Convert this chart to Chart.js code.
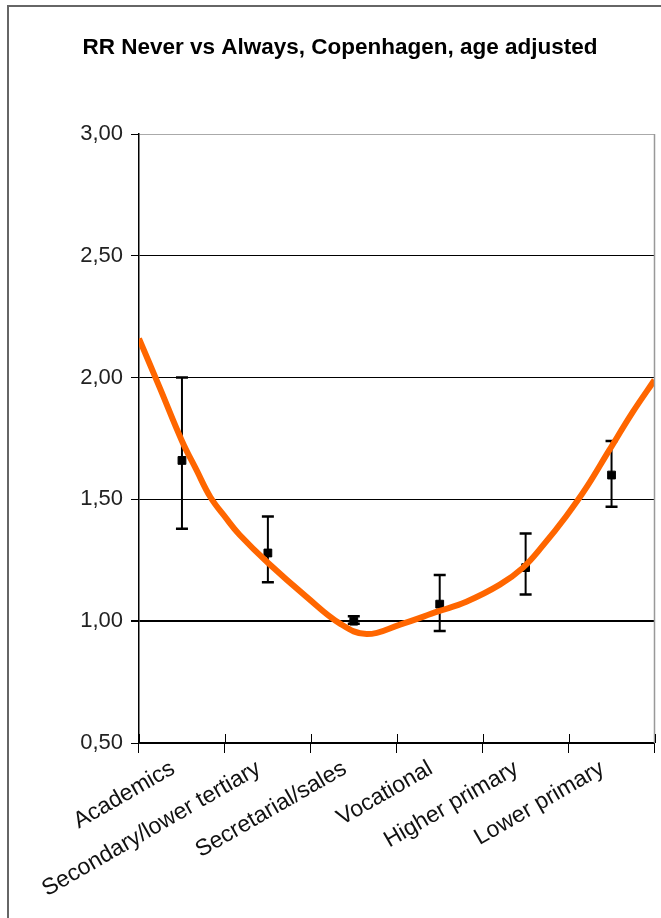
<!DOCTYPE html>
<html>
<head>
<meta charset="utf-8">
<script src="https://cdn.jsdelivr.net/npm/chart.js@4"></script>
<style>
  html, body { margin: 0; padding: 0; background: #fff; overflow: hidden; }
  #wrap { position: relative; width: 661px; height: 918px; }
  #rrChart { position: absolute; left: 25px; top: 0; }
  #frame { position: absolute; left: 7px; top: 5px; width: 720px; height: 980px; border: 2px solid #666; pointer-events: none; }
</style>
</head>
<body>
<div id="wrap">
  <canvas id="rrChart" width="636" height="918"></canvas>
  <div id="frame"></div>
</div>
<script>
// Kategorien (Bildungsgruppen)
const categories = ['Academics', 'Secondary/lower tertiary', 'Secretarial/sales', 'Vocational', 'Higher primary', 'Lower primary'];

// RR-Werte mit Konfidenzintervallen
const rrValues = [1.66, 1.28, 1.00, 1.07, 1.22, 1.60];
const rrLower = [1.38, 1.16, 0.99, 0.96, 1.11, 1.47];
const rrUpper = [2.00, 1.43, 1.02, 1.19, 1.36, 1.74];

// freihändige Trendkurve (x in Kategorie-Einheiten 0..6)
const curveX = [0, 0.24, 0.5, 0.67, 0.83, 1.02, 1.17, 1.5, 1.95, 2.34, 2.65, 3.03, 3.48, 3.81, 4.2, 4.47, 4.7, 4.97, 5.21, 5.47, 5.75, 6.0];
const curveY = [2.16, 1.96, 1.74, 1.62, 1.51, 1.42, 1.355, 1.24, 1.10, 0.99, 0.947, 0.985, 1.04, 1.08, 1.15, 1.22, 1.31, 1.43, 1.55, 1.70, 1.86, 1.99];

const yTicks = [0.5, 1.0, 1.5, 2.0, 2.5, 3.0];

const fontFamily = '"Liberation Sans", Arial, sans-serif';

function formatComma(v) {
    return v.toFixed(2).replace('.', ',');
}

// Fehlerbalken + Rahmen des Plotbereichs
const errorBarPlugin = {
    id: 'errorBars',
    beforeDatasetsDraw(chart) {
        const { ctx, scales: { x, y } } = chart;
        ctx.save();
        ctx.strokeStyle = '#000';
        categories.forEach((c, i) => {
            const px = x.getPixelForValue(i);
            const top = y.getPixelForValue(rrUpper[i]);
            const bot = y.getPixelForValue(rrLower[i]);
            ctx.lineWidth = 2;
            ctx.beginPath();
            ctx.moveTo(px, top);
            ctx.lineTo(px, bot);
            ctx.stroke();
            ctx.lineWidth = 2.5;
            ctx.beginPath();
            ctx.moveTo(px - 6, top);
            ctx.lineTo(px + 6, top);
            ctx.moveTo(px - 6, bot);
            ctx.lineTo(px + 6, bot);
            ctx.stroke();
        });
        ctx.restore();
    },
    afterDraw(chart) {
        const { ctx, chartArea: a, scales: { x } } = chart;
        ctx.save();
        // rechter Rand grau
        ctx.strokeStyle = '#999';
        ctx.lineWidth = 1.5;
        ctx.beginPath();
        ctx.moveTo(a.right, a.top);
        ctx.lineTo(a.right, a.bottom);
        ctx.stroke();
        // Tickmarks nach oben (Kreuz-Ticks)
        ctx.strokeStyle = '#000';
        ctx.lineWidth = 1;
        const step = x.width / categories.length;
        for (let i = 0; i <= categories.length; i++) {
            const px = Math.round(x.left + i * step) + 0.5;
            ctx.beginPath();
            ctx.moveTo(px, a.bottom - 9);
            ctx.lineTo(px, a.bottom);
            ctx.stroke();
        }
        ctx.restore();
    }
};

const ctx = document.getElementById('rrChart').getContext('2d');
const rrChart = new Chart(ctx, {
    type: 'line',
    data: {
        labels: categories,
        datasets: [
            {
                label: 'Trend',
                data: curveX.map((v, i) => ({ x: v, y: curveY[i] })),
                xAxisID: 'x2',
                borderColor: '#FF6600',
                borderWidth: 6,
                pointRadius: 0,
                tension: 0.4,
                fill: false,
                order: 0
            },
            {
                label: 'RR',
                data: rrValues,
                xAxisID: 'x',
                showLine: false,
                pointStyle: 'rect',
                pointRadius: 5.5,
                backgroundColor: '#000',
                borderColor: '#000',
                order: 1
            }
        ]
    },
    options: {
        responsive: false,
        animation: false,
        layout: { padding: { left: 0, right: 6, top: 0, bottom: 0 } },
        scales: {
            x: {
                type: 'category',
                offset: true,
                border: { color: '#000', width: 1.5 },
                grid: {
                    offset: true,
                    drawOnChartArea: false,
                    drawTicks: true,
                    tickLength: 10,
                    color: '#000'
                },
                ticks: {
                    color: '#111',
                    font: { family: fontFamily, size: 23 },
                    maxRotation: 30,
                    minRotation: 30,
                    autoSkip: false,
                    padding: 2,
                    labelOffset: -9
                },
                afterFit(scale) { scale.height = 175; }
            },
            x2: {
                type: 'linear',
                display: false,
                min: 0,
                max: 6
            },
            y: {
                min: 0.5,
                max: 3.0,
                border: { color: '#000', width: 1.5 },
                grid: {
                    color: c => (c.tick && c.tick.value === 3 ? '#aaa' : '#000'),
                    lineWidth: c => (c.tick && c.tick.value === 1 ? 2 : 1),
                    tickColor: '#000',
                    tickLength: 8
                },
                afterBuildTicks(scale) {
                    scale.ticks = yTicks.map(v => ({ value: v }));
                },
                ticks: {
                    color: '#222',
                    font: { family: fontFamily, size: 22 },
                    padding: 8,
                    callback: v => formatComma(v)
                },
                afterFit(scale) { scale.width = 114; }
            }
        },
        plugins: {
            legend: { display: false },
            tooltip: { enabled: false },
            title: {
                display: true,
                text: 'RR Never vs Always, Copenhagen, age adjusted',
                color: '#000',
                font: { family: fontFamily, size: 22.5, weight: 'bold' },
                padding: { top: 34, bottom: 73 }
            }
        }
    },
    plugins: [errorBarPlugin]
});
</script>
</body>
</html>
